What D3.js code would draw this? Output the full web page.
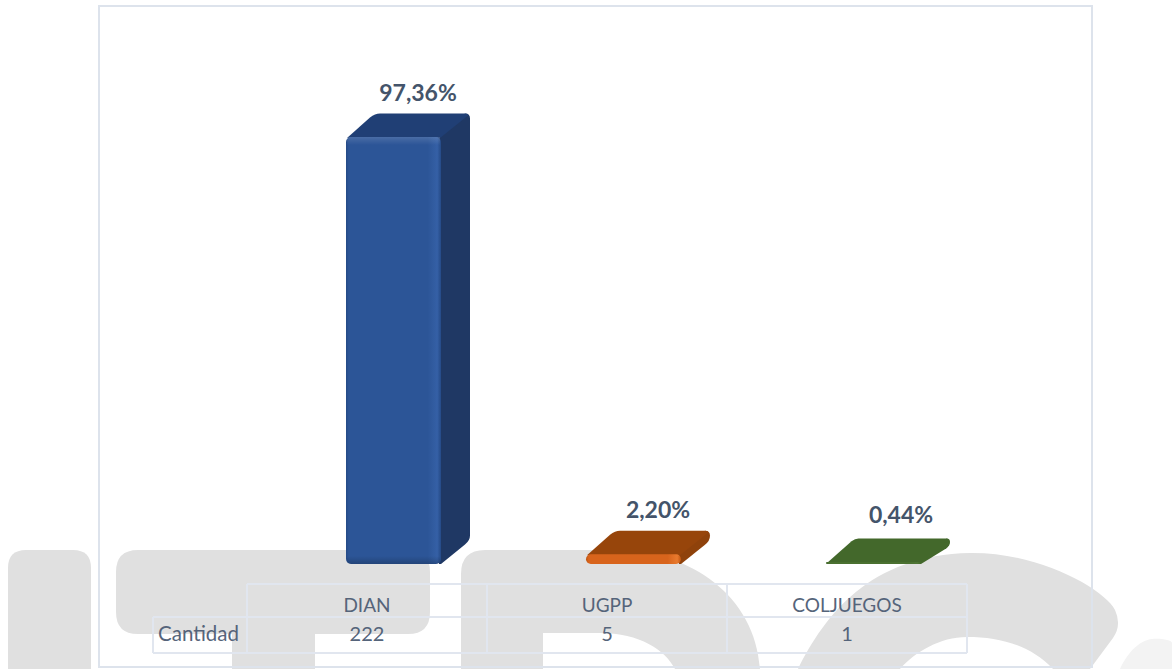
<!DOCTYPE html>
<html>
<head>
<meta charset="utf-8">
<script src="https://cdn.jsdelivr.net/npm/d3@7"></script>
<style>
  html, body { margin: 0; padding: 0; background: #fff; }
  svg { display: block; }
  text { font-family: Lato, "Open Sans", sans-serif; }
</style>
</head>
<body>
<svg id="chart" width="1172" height="669"></svg>
<script>
var categories = ['DIAN', 'UGPP', 'COLJUEGOS'];
var counts = [222, 5, 1];
var percents = [97.36, 2.20, 0.44];
var rowLabel = 'Cantidad';
var faceColors = [
  {front: '#2c5597', light: '#3560a6', edge: '#254a86', top: '#203f75', side: '#1f3864'},
  {front: '#d8641c', light: '#e87a2e', edge: '#c05510', top: '#97450b', side: '#8f420b'},
  {front: '#4a7030', light: '#4f7635', edge: '#456a2c', top: '#43682b', side: '#43682b'}
];

// watermark letters behind the chart
var watermark = [
  {d: 'M8 568Q8 550 26 550H73Q91 550 91 568V669H8Z', fill: '#e0e0e0'},
  {d: 'M116 572Q116 550 138 550H408Q430 550 430 572V612Q430 634 408 634H315V669H232V634H138Q116 634 116 612Z', fill: '#e0e0e0'},
  {d: 'M461 574Q461 550 485 550H620C690 552 755 595 760 669H675C665 650 640 633 600 633H543V669H461Z', fill: '#e0e0e0'},
  {d: 'M798 669C825 615 870 555 970 553C1040 552 1105 590 1115 610Q1122 625 1113 638L1090 669H1053C1030 645 1000 637 967 637C940 637 915 652 900 669Z', fill: '#e0e0e0'},
  {d: 'M1120 669C1128 652 1140 640 1152 639C1160 638 1172 640 1172 643V669Z', fill: '#f3f3f3'}
];

var svg = d3.select('#chart');
var defs = svg.append('defs');

var tableLeft = 247, tableRight = 967, headLeft = 153;
var rowTop = 584, rowMid = 617, rowBot = 653;
var barWidth = 95, depthX = 29, depthY = 23.5, barShift = -21;
var baseY = 564;

var x = d3.scaleBand().domain(categories).range([tableLeft, tableRight]);
var y = d3.scaleLinear().domain([0, 97.36]).range([baseY, 137]);

svg.append('g').selectAll('path').data(watermark).enter().append('path')
  .attr('d', function(d){ return d.d; })
  .attr('fill', function(d){ return d.fill; });

// outer frame
svg.append('rect')
  .attr('x', 99).attr('y', 6).attr('width', 993).attr('height', 661)
  .attr('fill', 'none').attr('stroke', '#dde3ec').attr('stroke-width', 2);

// table grid
var grid = svg.append('g').attr('stroke', '#e1e6ef').attr('stroke-width', 2).attr('fill', 'none');
grid.append('line').attr('x1', tableLeft).attr('x2', tableRight).attr('y1', rowTop).attr('y2', rowTop);
grid.append('line').attr('x1', headLeft).attr('x2', tableRight).attr('y1', rowMid).attr('y2', rowMid);
grid.append('line').attr('x1', headLeft).attr('x2', tableRight).attr('y1', rowBot).attr('y2', rowBot);
grid.append('line').attr('x1', headLeft).attr('x2', headLeft).attr('y1', rowMid).attr('y2', rowBot);
grid.selectAll('.col').data(categories).enter().append('line')
  .attr('class', 'col')
  .attr('x1', function(d){ return x(d); }).attr('x2', function(d){ return x(d); })
  .attr('y1', rowTop).attr('y2', rowBot);
grid.append('line').attr('x1', tableRight).attr('x2', tableRight).attr('y1', rowTop).attr('y2', rowBot);

// soft edges on the tall front face
var bevelTop = defs.append('linearGradient').attr('id', 'bevelTop')
  .attr('x1', 0).attr('x2', 0).attr('y1', 0).attr('y2', 1);
bevelTop.append('stop').attr('offset', 0).attr('stop-color', '#fff').attr('stop-opacity', 0.14);
bevelTop.append('stop').attr('offset', 1).attr('stop-color', '#fff').attr('stop-opacity', 0);
var bevelBot = defs.append('linearGradient').attr('id', 'bevelBot')
  .attr('x1', 0).attr('x2', 0).attr('y1', 0).attr('y2', 1);
bevelBot.append('stop').attr('offset', 0).attr('stop-color', '#000').attr('stop-opacity', 0);
bevelBot.append('stop').attr('offset', 1).attr('stop-color', '#000').attr('stop-opacity', 0.2);

// bars
var bars = svg.append('g').selectAll('g').data(categories).enter().append('g');

bars.each(function(cat, i){
  var g = d3.select(this);
  var c = faceColors[i];
  var x0 = x(cat) + x.bandwidth() / 2 + barShift;
  var x1 = x0 + barWidth;
  var xr = x1 + depthX;
  var yTop = y(percents[i]);
  var yBack = yTop - depthY;
  var h = baseY - yTop;
  var r = Math.min(5, 3 + h / 4);

  //side face
  var sideEnd = Math.max(yBack + r, baseY - depthY - r);
  var side = d3.path();
  side.moveTo(x1 - 2, yTop);
  side.lineTo(xr - r, yBack);
  side.quadraticCurveTo(xr, yBack, xr, yBack + r);
  side.lineTo(xr, sideEnd);
  side.quadraticCurveTo(xr, sideEnd + r, xr - r, sideEnd + r + r * 0.8);
  side.lineTo(x1, baseY);
  side.lineTo(x1 - 2, baseY);
  side.closePath();
  g.append('path').attr('d', side.toString()).attr('fill', c.side);

  //top face
  var top = d3.path();
  top.moveTo(x0 + 1, yTop + 1);
  top.lineTo(x0 + depthX - r, yBack + r * 0.8);
  top.quadraticCurveTo(x0 + depthX, yBack, x0 + depthX + r, yBack);
  top.lineTo(xr - r, yBack);
  top.quadraticCurveTo(xr - 1, yBack, xr - 2, yBack + 2);
  top.lineTo(x1 - 1, yTop + 1);
  top.closePath();
  g.append('path').attr('d', top.toString()).attr('fill', c.top);

  //front face
  var gradId = 'front' + i;
  var grad = defs.append('linearGradient').attr('id', gradId);
  [[0, c.edge], [0.03, c.front], [0.86, c.front], [0.96, c.light], [1, c.edge]].forEach(function(s){
    grad.append('stop').attr('offset', s[0]).attr('stop-color', s[1]);
  });
  g.append('rect')
    .attr('x', x0).attr('y', yTop)
    .attr('width', barWidth).attr('height', h)
    .attr('rx', Math.min(5, h / 2))
    .attr('fill', 'url(#' + gradId + ')');
  if (h > 100) {
    g.append('rect')
      .attr('x', x0 + 1).attr('y', yTop)
      .attr('width', barWidth - 2).attr('height', 8)
      .attr('fill', 'url(#bevelTop)');
    g.append('rect')
      .attr('x', x0 + 1).attr('y', baseY - 8)
      .attr('width', barWidth - 2).attr('height', 8)
      .attr('rx', 4)
      .attr('fill', 'url(#bevelBot)');
  }

  // the smallest label sits a little further right and higher in the original
  g.append('text')
    .attr('x', x0 + 72 + (h < 5 ? 3 : 0))
    .attr('y', Math.min(yTop - 36, 523))
    .attr('text-anchor', 'middle')
    .attr('font-size', 23)
    .attr('font-weight', 700)
    .attr('fill', '#44546a')
    .text(d3.format('.2f')(percents[i]).replace('.', ',') + '%');
});

// table text
svg.append('g').selectAll('text').data(categories).enter().append('text')
  .attr('x', function(d){ return x(d) + x.bandwidth() / 2; })
  .attr('y', 612)
  .attr('text-anchor', 'middle').attr('font-size', 19).attr('fill', '#55647a')
  .text(function(d){ return d; });

svg.append('g').selectAll('text').data(counts).enter().append('text')
  .attr('x', function(d, i){ return x(categories[i]) + x.bandwidth() / 2; })
  .attr('y', 641)
  .attr('text-anchor', 'middle').attr('font-size', 20).attr('fill', '#55647a')
  .text(function(d){ return d; });

svg.append('text')
  .attr('x', 158).attr('y', 641)
  .attr('font-size', 20.5).attr('fill', '#55647a')
  .text(rowLabel);
</script>
</body>
</html>
